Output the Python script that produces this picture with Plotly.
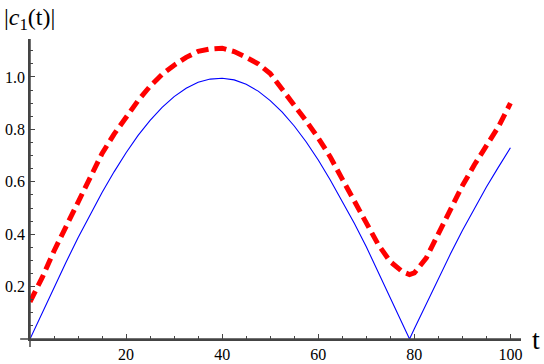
import plotly.graph_objects as go

# Blue solid curve
t_blue = [0, 2.5, 5, 7.5, 10, 12.5, 15, 17.5, 20, 22.5, 25, 27.5, 30, 32.5, 35, 37.5, 40,
          42.5, 45, 47.5, 50, 52.5, 55, 57.5, 60, 62.5, 65, 67.5, 70, 72.5, 75, 77.5, 79,
          80, 82.5, 85, 87.5, 90, 92.5, 95, 97.5, 100]
c_blue = [0.0, 0.099, 0.197, 0.293, 0.386, 0.475, 0.559, 0.638, 0.711, 0.777, 0.834, 0.884,
          0.925, 0.957, 0.980, 0.992, 0.995, 0.989, 0.972, 0.946, 0.910, 0.866, 0.813, 0.752,
          0.683, 0.607, 0.527, 0.442, 0.352, 0.256, 0.158, 0.060, 0.0,
          0.039, 0.135, 0.231, 0.324, 0.414, 0.499, 0.580, 0.656, 0.730]

# Red dashed curve
t_red = [0, 2.5, 5, 7.5, 10, 12.5, 15, 17.5, 20, 22.5, 25, 27.5, 30, 32.5, 35, 37.5, 40,
         42.5, 45, 47.5, 50, 52.5, 55, 57.5, 60, 62.5, 65, 67.5, 70, 72.5, 75, 77.5, 79,
         80, 82.5, 85, 87.5, 90, 92.5, 95, 97.5, 100]
c_red = [0.142, 0.233, 0.336, 0.428, 0.525, 0.619, 0.708, 0.782, 0.848, 0.910, 0.965, 1.010,
         1.045, 1.075, 1.098, 1.107, 1.110, 1.097, 1.075, 1.050, 1.013, 0.955, 0.893, 0.832,
         0.767, 0.695, 0.610, 0.527, 0.441, 0.360, 0.295, 0.257, 0.246,
         0.252, 0.310, 0.405, 0.500, 0.585, 0.665, 0.740, 0.810, 0.900]

x_ticks = [20, 40, 60, 80, 100]
y_ticks = [0.2, 0.4, 0.6, 0.8, 1.0]

x_range = [0, 102.2]
y_range = [0, 1.145]

axis_color = "#444444"
serif = "Liberation Serif, Times New Roman, serif"

fig = go.Figure()
fig.add_trace(go.Scatter(x=t_blue, y=c_blue, mode="lines",
                         line=dict(color="#0000FF", width=1.1)))
fig.add_trace(go.Scatter(x=t_red, y=c_red, mode="lines",
                         line=dict(color="#FF0000", width=5, dash="12px,6px")))

fig.update_layout(
    template="none",
    width=544, height=364, autosize=False,
    margin=dict(l=30, r=23, t=39, b=25, pad=0),
    paper_bgcolor="white", plot_bgcolor="white",
    showlegend=False,
    font=dict(family=serif, size=16, color="black"),
    xaxis=dict(range=x_range, automargin=False,
               showgrid=False, zeroline=False,
               showline=True, linecolor=axis_color, linewidth=1.5,
               layer="above traces",
               tickmode="array", tickvals=x_ticks,
               ticks="inside", ticklen=5, tickcolor=axis_color, tickwidth=1,
               minor=dict(tick0=0, dtick=5, ticks="inside", ticklen=3,
                          tickcolor=axis_color, tickwidth=1, showgrid=False),
               tickfont=dict(family=serif, size=16, color="black")),
    yaxis=dict(range=y_range, automargin=False,
               showgrid=False, zeroline=False,
               showline=True, linecolor=axis_color, linewidth=1.5,
               layer="above traces",
               tickmode="array", tickvals=y_ticks, tickformat=".1f",
               ticks="inside", ticklen=5, tickcolor=axis_color, tickwidth=1,
               minor=dict(tick0=0, dtick=0.05, ticks="inside", ticklen=3,
                          tickcolor=axis_color, tickwidth=1, showgrid=False),
               tickfont=dict(family=serif, size=16, color="black")),
    shapes=[
        # axis lines and small overhangs past the origin (decoration)
        dict(type="line", xref="paper", yref="paper", x0=0, x1=0, y0=-0.027, y1=1,
             line=dict(color=axis_color, width=1.5), layer="above"),
        dict(type="line", xref="paper", yref="paper", x0=-0.02, x1=1, y0=0, y1=0,
             line=dict(color=axis_color, width=1.5), layer="above"),
    ],
    annotations=[
        dict(text="|<i>c</i><sub>1</sub>(t)|", xref="paper", yref="paper",
             x=-0.057, y=1.123, xanchor="left", yanchor="top", showarrow=False,
             font=dict(family=serif, size=24, color="black")),
        dict(text="t", xref="paper", yref="paper",
             x=1.031, y=0.0, xanchor="center", yanchor="middle", showarrow=False,
             font=dict(family=serif, size=28, color="black")),
    ],
)

fig.write_html(
    "out.html",
    config={"displayModeBar": False},
    post_script="document.body.style.margin='0';document.body.style.padding='0';",
)
